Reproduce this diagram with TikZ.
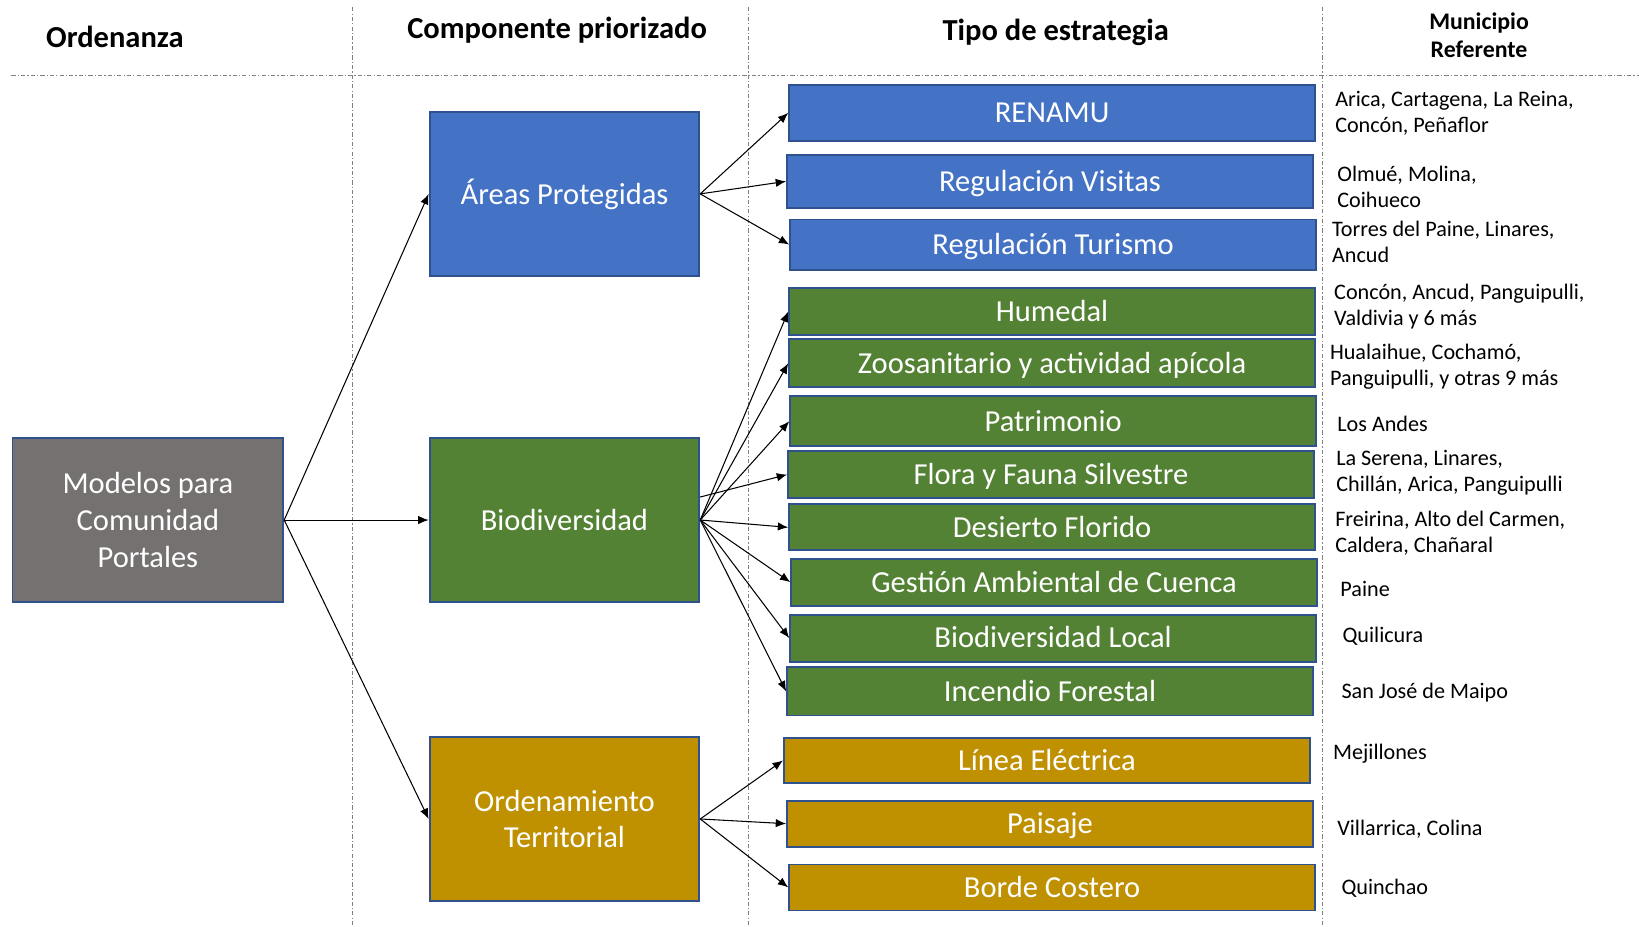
\documentclass[tikz,border=0pt]{standalone}
\usepackage{fontspec}
\setmainfont{Carlito}
\usetikzlibrary{arrows.meta}

\definecolor{azul}{HTML}{4472C4}
\definecolor{verde}{HTML}{548235}
\definecolor{ocre}{HTML}{BF9000}
\definecolor{gris}{HTML}{767171}
\definecolor{borde}{HTML}{2F528F}

\begin{document}
\begin{tikzpicture}[%
    x=0.5pt, y=-0.5pt,
    >={Latex[length=5pt,width=4pt]},
    box/.style={draw=borde, line width=0.9pt, text=white, inner sep=0pt,
      align=center, font=\fontsize{14.6}{17.5}\selectfont},
    comp/.style={box, minimum width=129pt, minimum height=78.5pt},
    estr/.style={box, minimum width=251.5pt, text height=12pt, text depth=2.6pt},
    muni/.style={anchor=west, align=left, inner sep=0pt,
      font=\fontsize{10.6}{12.5}\selectfont},
    titulo/.style={font=\bfseries\fontsize{14.6}{17.5}\selectfont},
    guia/.style={gray, line width=0.6pt, dash pattern=on 2pt off 1pt on 0.6pt off 1pt}
  ]
    \useasboundingbox (0,0) rectangle (1568,886);

    % column headers and guides
    \node[titulo] (h1) at (110,35) {Ordenanza};
    \node[titulo] (h2) at (533,29) {Componente priorizado};
    \node[titulo] (h3) at (1010,31) {Tipo de estrategia};
    \node[align=center, font=\bfseries\fontsize{11.4}{13.5}\selectfont] (h4) at (1415,34) {Municipio\\Referente};

    \draw[guia] (11,72) -- (1568,72);
    \draw[guia] (337,7) -- (337,886);
    \draw[guia] (716,7) -- (716,886);
    \draw[guia] (1265,7) -- (1265,886);

    % ordenanza and components
    \node[comp, fill=gris, minimum width=129.5pt] (M) at (141.5,497.5) {Modelos para\\Comunidad\\Portales};
    \node[comp, fill=azul]  (AP) at (540,185.5) {Áreas Protegidas};
    \node[comp, fill=verde] (BD) at (540,497.5) {Biodiversidad};
    \node[comp, fill=ocre]  (OT) at (540,783.5) {Ordenamiento\\Territorial};

    % strategies
    \node[estr, fill=azul, minimum height=27pt]   (E1)  at (1006.5,108)   {RENAMU};
    \node[estr, fill=azul, minimum height=25.5pt] (E2)  at (1004.5,173.5) {Regulación Visitas};
    \node[estr, fill=azul, minimum height=24pt]   (E3)  at (1007.5,234)   {Regulación Turismo};
    \node[estr, fill=verde, minimum height=22.5pt] (E4)  at (1006.5,298)   {Humedal};
    \node[estr, fill=verde, minimum height=23pt]   (E5)  at (1006.5,347.5) {Zoosanitario y actividad apícola};
    \node[estr, fill=verde, minimum height=24pt]   (E6)  at (1007.5,403)   {Patrimonio};
    \node[estr, fill=verde, minimum height=22.5pt] (E7)  at (1005.5,454)   {Flora y Fauna Silvestre};
    \node[estr, fill=verde, minimum height=22pt]   (E8)  at (1006.5,504.5) {Desierto Florido};
    \node[estr, fill=verde, minimum height=22.5pt] (E9)  at (1008.5,557)   {Gestión Ambiental de Cuenca};
    \node[estr, fill=verde, minimum height=22.5pt] (E10) at (1007.5,610.5) {Biodiversidad Local};
    \node[estr, fill=verde, minimum height=23pt]   (E11) at (1004.5,661.5) {Incendio Forestal};
    \node[estr, fill=ocre, minimum height=21.5pt]  (E12) at (1001.5,727.5) {Línea Eléctrica};
    \node[estr, fill=ocre, minimum height=22pt]    (E13) at (1004.5,788)   {Paisaje};
    \node[estr, fill=ocre, minimum height=22pt]    (E14) at (1006.5,849)   {Borde Costero};

    % municipios
    \node[muni] (R1)  at (1277,108)   {Arica, Cartagena, La Reina,\\Concón, Peñaflor};
    \node[muni] (R2)  at (1279,178.5) {Olmué, Molina,\\Coihueco};
    \node[muni] (R3)  at (1274,231.5) {Torres del Paine, Linares,\\Ancud};
    \node[muni] (R4)  at (1276,293.5) {Concón, Ancud, Panguipulli,\\Valdivia y 6 más};
    \node[muni] (R5)  at (1272,351)   {Hualaihue, Cochamó,\\Panguipulli, y otras 9 más};
    \node[muni] (R6)  at (1279,406)   {Los Andes};
    \node[muni] (R7)  at (1278,452.5) {La Serena, Linares,\\Chillán, Arica, Panguipulli};
    \node[muni] (R8)  at (1277,510.5) {Freirina, Alto del Carmen,\\Caldera, Chañaral};
    \node[muni] (R9)  at (1282,563)   {Paine};
    \node[muni] (R10) at (1284,609)   {Quilicura};
    \node[muni] (R11) at (1283,663)   {San José de Maipo};
    \node[muni] (R12) at (1275,721)   {Mejillones};
    \node[muni] (R13) at (1279,793)   {Villarrica, Colina};
    \node[muni] (R14) at (1283,850)   {Quinchao};

    \path[->, line width=0.5pt]
      (M.east)  edge (AP.west) edge (BD.west) edge (OT.west)
      (AP.east) edge (E1.west) edge (E2.west) edge (E3.west)
      (BD.east) edge (E4.west) edge (E5.west) edge (E6.west)
                edge (E8.west) edge (E9.west) edge (E10.west) edge (E11.west)
      ([yshift=11pt]BD.east) edge (E7.west)
      (OT.east) edge (E12.west) edge (E13.west) edge (E14.west);
\end{tikzpicture}
\end{document}
